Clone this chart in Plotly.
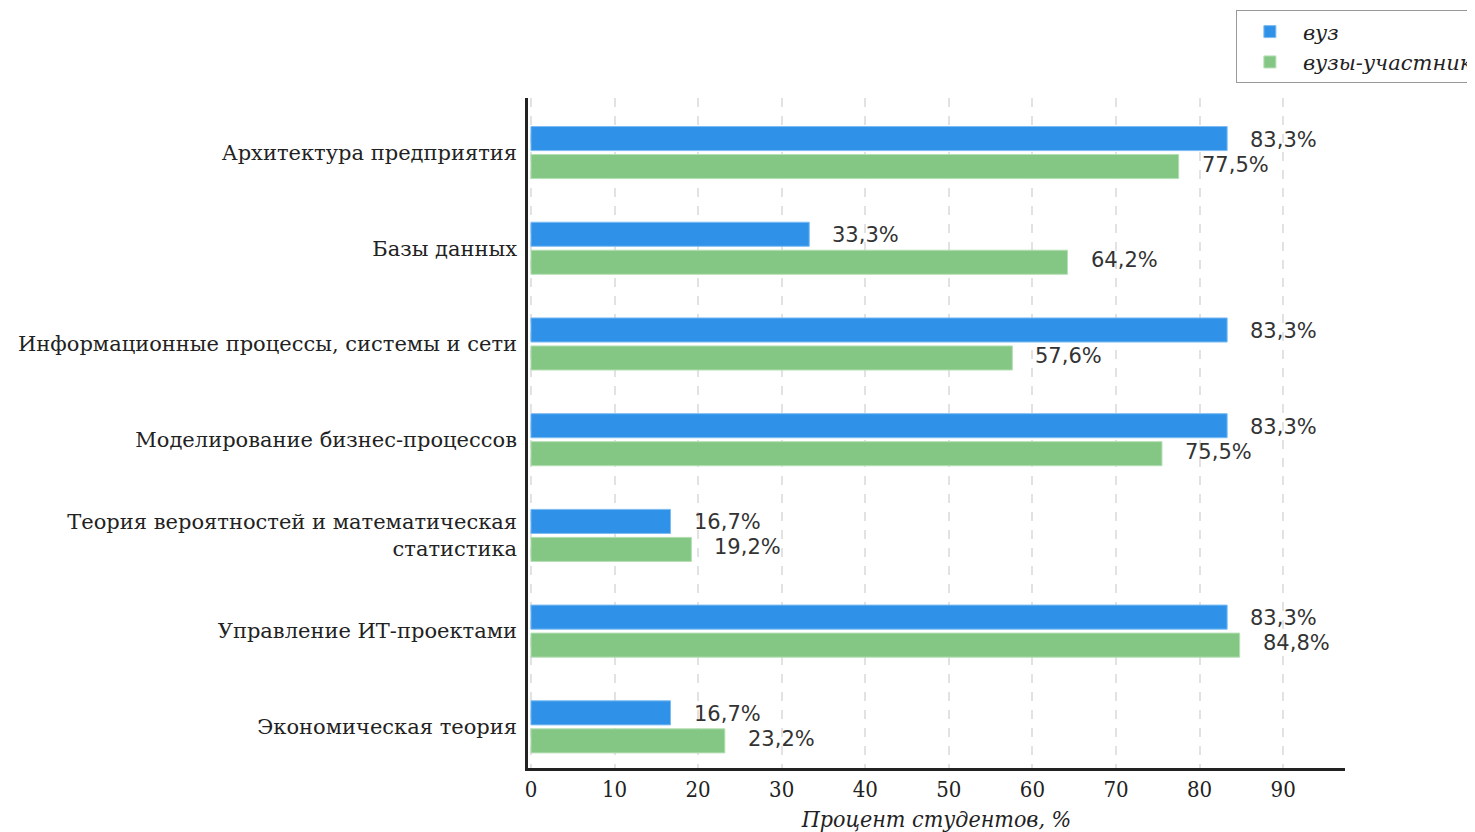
import plotly.graph_objects as go

categories = [
    "Архитектура предприятия",
    "Базы данных",
    "Информационные процессы, системы и сети",
    "Моделирование бизнес-процессов",
    "Теория вероятностей и математическая<br>статистика",
    "Управление ИТ-проектами",
    "Экономическая теория",
]
vuz = [83.3, 33.3, 83.3, 83.3, 16.7, 83.3, 16.7]
participants = [77.5, 64.2, 57.6, 75.5, 19.2, 84.8, 23.2]
x_ticks = [0, 10, 20, 30, 40, 50, 60, 70, 80, 90]

BLUE = "#2f92e8"
GREEN = "#84c784"

pos = list(range(len(categories)))

fig = go.Figure()
fig.add_trace(go.Bar(
    name="вуз", y=pos, x=vuz, orientation="h",
    marker=dict(color=BLUE, line=dict(color="#7dbcf2", width=1)),
))
fig.add_trace(go.Bar(
    name="вузы-участники", y=pos, x=participants, orientation="h",
    marker=dict(color=GREEN, line=dict(color="#b5dfb5", width=1)),
))

def fmt(v):
    return f"{v:.1f}".replace(".", ",") + "%"

annotations = []
for i, (a, b) in enumerate(zip(vuz, participants)):
    annotations.append(dict(x=a, y=i, text=fmt(a), xref="x", yref="y",
                            xanchor="left", yanchor="middle", showarrow=False,
                            xshift=21, yshift=13,
                            font=dict(family="DejaVu Sans", size=21, color="#333")))
    annotations.append(dict(x=b, y=i, text=fmt(b), xref="x", yref="y",
                            xanchor="left", yanchor="middle", showarrow=False,
                            xshift=21, yshift=-12,
                            font=dict(family="DejaVu Sans", size=21, color="#333")))

fig.update_layout(
    barmode="group", bargap=0.415, bargroupgap=0.14,
    width=1467, height=824,
    margin=dict(l=520, r=130, t=90, b=64, autoexpand=False),
    plot_bgcolor="white", paper_bgcolor="white",
    annotations=annotations,
    legend=dict(
        xref="container", yref="container",
        x=0.837, y=0.997, xanchor="left", yanchor="top",
        bordercolor="#999", borderwidth=1, bgcolor="white",
        font=dict(family="DejaVu Serif", size=21, color="#222", style="italic"),
        traceorder="normal", itemwidth=56, tracegroupgap=0,
    ),
    xaxis=dict(
        range=[-0.35, 97.4], tickvals=x_ticks, ticktext=[str(t) for t in x_ticks],
        showgrid=True, gridcolor="#e2e2e2", gridwidth=2, griddash="dash",
        zeroline=False, showline=True, linecolor="#222", linewidth=2.5,
        tickfont=dict(family="DejaVu Serif Condensed", size=22, color="#222"),
        title=dict(text="Процент студентов, %", standoff=10,
                   font=dict(family="DejaVu Serif Condensed", size=23, color="#222", style="italic")),
        ticks="", fixedrange=True,
    ),
    yaxis=dict(
        range=[6.43, -0.57], tickvals=pos, ticktext=categories,
        showgrid=False, zeroline=False, showline=True, linecolor="#222", linewidth=2.5,
        tickfont=dict(family="DejaVu Serif", size=21, color="#222"),
        ticks="", ticklen=0, ticklabelstandoff=4,
    ),
)

fig.write_html("out.html")
